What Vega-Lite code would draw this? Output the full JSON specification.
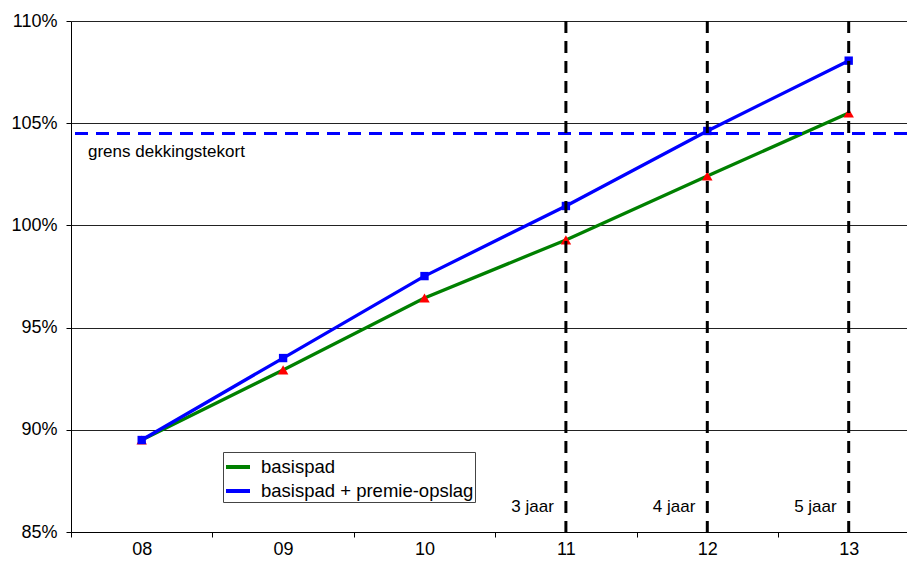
{
  "$schema": "https://vega.github.io/schema/vega-lite/v6.json",
  "width": 836,
  "height": 511,
  "autosize": {"type": "none"},
  "padding": {"left": 71, "top": 21, "right": 0, "bottom": 35},
  "background": "white",
  "config": {
    "font": "Liberation Sans",
    "view": {"stroke": null},
    "axis": {
      "labelFont": "Liberation Sans",
      "labelColor": "#000",
      "labelFontSize": 18,
      "domainColor": "#000",
      "tickColor": "#000",
      "tickSize": 5,
      "title": null
    }
  },
  "datasets": {
    "series": [
      {"jaar": 8, "serie": "basispad", "reeks": "basis", "waarde": 89.5},
      {"jaar": 9, "serie": "basispad", "reeks": "basis", "waarde": 92.93},
      {"jaar": 10, "serie": "basispad", "reeks": "basis", "waarde": 96.45},
      {"jaar": 11, "serie": "basispad", "reeks": "basis", "waarde": 99.29},
      {"jaar": 12, "serie": "basispad", "reeks": "basis", "waarde": 102.42},
      {"jaar": 13, "serie": "basispad", "reeks": "basis", "waarde": 105.5},
      {"jaar": 8, "serie": "basispad + premie-opslag", "reeks": "premie", "waarde": 89.5},
      {"jaar": 9, "serie": "basispad + premie-opslag", "reeks": "premie", "waarde": 93.51},
      {"jaar": 10, "serie": "basispad + premie-opslag", "reeks": "premie", "waarde": 97.52},
      {"jaar": 11, "serie": "basispad + premie-opslag", "reeks": "premie", "waarde": 100.95},
      {"jaar": 12, "serie": "basispad + premie-opslag", "reeks": "premie", "waarde": 104.62},
      {"jaar": 13, "serie": "basispad + premie-opslag", "reeks": "premie", "waarde": 108.06}
    ],
    "grens": [{"niveau": 104.5, "start": 7.5, "label": "grens dekkingstekort"}],
    "horizon": [
      {"jaar": 11, "label": "3 jaar", "labelY": 86.22},
      {"jaar": 12, "label": "4 jaar", "labelY": 86.22},
      {"jaar": 13, "label": "5 jaar", "labelY": 86.22}
    ]
  },
  "layer": [
    {
      "data": {"name": "series"},
      "mark": {"type": "line", "strokeWidth": 3.3},
      "encoding": {
        "x": {
          "field": "jaar",
          "type": "quantitative",
          "scale": {"domain": [7.5, 13.4123], "nice": false, "zero": false},
          "axis": {
            "values": [8, 9, 10, 11, 12, 13],
            "labelExpr": "datum.value < 10 ? '0' + datum.value : '' + datum.value",
            "tickOffset": -70.7,
            "labelOffset": 70.7,
            "grid": false,
            "labelPadding": 3,
            "labelFlush": false,
            "labelOverlap": false
          }
        },
        "y": {
          "field": "waarde",
          "type": "quantitative",
          "scale": {"domain": [85, 110], "nice": false, "zero": false},
          "axis": {
            "values": [85, 90, 95, 100, 105, 110],
            "labelExpr": "datum.value + '%'",
            "grid": true,
            "gridColor": "#222",
            "gridWidth": 1,
            "labelPadding": 9,
            "labelFlush": false
          }
        },
        "color": {
          "field": "serie",
          "type": "nominal",
          "scale": {"domain": ["basispad", "basispad + premie-opslag"], "range": ["#008000", "#0000FF"]},
          "legend": {
            "title": null,
            "orient": "none",
            "legendX": 152,
            "legendY": 431,
            "symbolType": "stroke",
            "symbolStrokeWidth": 4,
            "symbolSize": 576,
            "labelFontSize": 18.5,
            "labelColor": "#000",
            "labelLimit": 400,
            "labelOffset": 9,
            "strokeColor": "#444",
            "fillColor": "white",
            "padding": 1,
            "rowPadding": 0,
            "offset": 0
          }
        }
      }
    },
    {
      "data": {"name": "series"},
      "mark": {"type": "point", "filled": true, "opacity": 1},
      "encoding": {
        "x": {"field": "jaar", "type": "quantitative"},
        "y": {"field": "waarde", "type": "quantitative"},
        "shape": {
          "field": "reeks",
          "type": "nominal",
          "scale": {"domain": ["basis", "premie"], "range": ["triangle-up", "square"]},
          "legend": null
        },
        "fill": {
          "field": "reeks",
          "type": "nominal",
          "scale": {"domain": ["basis", "premie"], "range": ["#FF0000", "#0000FF"]},
          "legend": null
        },
        "size": {
          "field": "reeks",
          "type": "nominal",
          "scale": {"domain": ["basis", "premie"], "range": [110, 70]},
          "legend": null
        }
      }
    },
    {
      "data": {"name": "grens"},
      "mark": {"type": "rule", "color": "#0000FF", "strokeWidth": 3, "strokeDash": [13, 8]},
      "encoding": {
        "y": {"field": "niveau", "type": "quantitative"}
      }
    },
    {
      "data": {"name": "grens"},
      "mark": {"type": "text", "align": "left", "baseline": "middle", "dx": 17, "dy": 19, "fontSize": 17, "color": "#000"},
      "encoding": {
        "x": {"field": "start", "type": "quantitative"},
        "y": {"field": "niveau", "type": "quantitative"},
        "text": {"field": "label"}
      }
    },
    {
      "data": {"name": "horizon"},
      "mark": {"type": "rule", "color": "#000", "strokeWidth": 3, "strokeDash": [12, 8]},
      "encoding": {
        "x": {"field": "jaar", "type": "quantitative"}
      }
    },
    {
      "data": {"name": "horizon"},
      "mark": {"type": "text", "align": "right", "baseline": "middle", "dx": -12, "fontSize": 17, "color": "#000"},
      "encoding": {
        "x": {"field": "jaar", "type": "quantitative"},
        "y": {"field": "labelY", "type": "quantitative"},
        "text": {"field": "label"}
      }
    }
  ]
}
